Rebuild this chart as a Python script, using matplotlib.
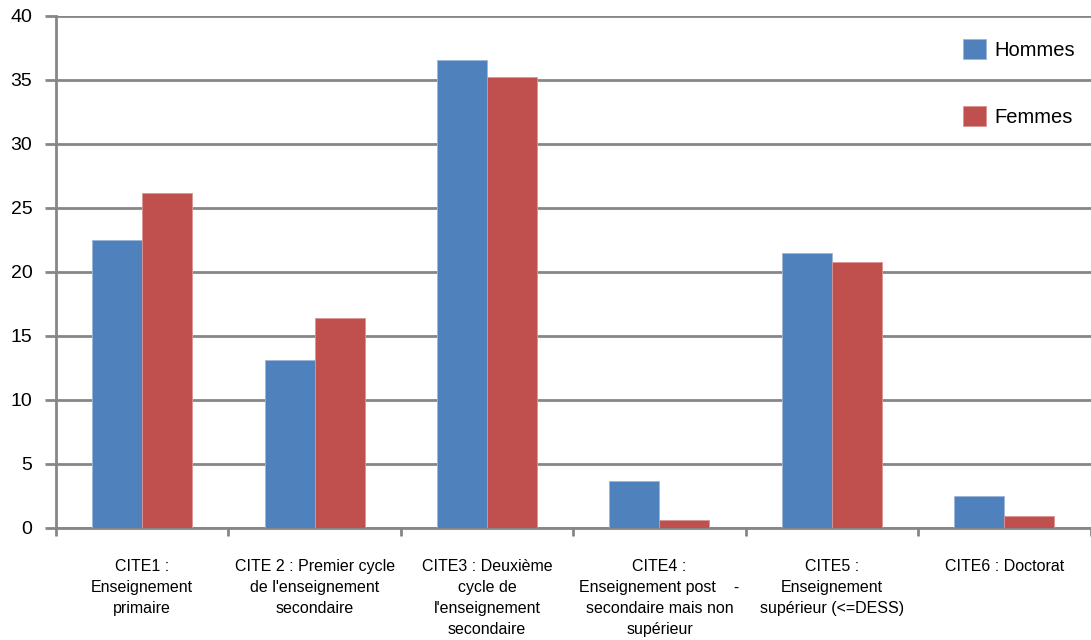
import matplotlib.pyplot as plt
import numpy as np

plt.rcParams['font.family'] = ['Liberation Sans', 'DejaVu Sans']

categories = [
    "CITE1 :\nEnseignement\nprimaire",
    "CITE 2 : Premier cycle\nde l'enseignement\nsecondaire",
    "CITE3 : Deuxième\ncycle de\nl'enseignement\nsecondaire",
    "CITE4 :\nEnseignement post    -\nsecondaire mais non\nsupérieur",
    "CITE5 :\nEnseignement\nsupérieur (<=DESS)",
    "CITE6 : Doctorat",
]
hommes = [22.5, 13.1, 36.6, 3.7, 21.5, 2.5]
femmes = [26.2, 16.4, 35.2, 0.6, 20.8, 0.95]
yticks = [0, 5, 10, 15, 20, 25, 30, 35, 40]

blue = "#4F81BD"
red = "#C0504D"
grid = "#868686"

fig = plt.figure(figsize=(10.91, 6.40), dpi=100)
ax = fig.add_axes([56 / 1091, 1 - 528 / 640, 1 - 56 / 1091 - 0.5 / 1091, 512 / 640])

x = np.arange(len(categories))
w = 0.29
ax.bar(x - w / 2, hommes, w, color=blue, edgecolor="#9DB6D9", linewidth=0.6, label="Hommes", zorder=3)
ax.bar(x + w / 2, femmes, w, color=red, edgecolor="#D99694", linewidth=0.6, label="Femmes", zorder=3)

ax.set_xlim(-0.5, len(categories) - 0.5)
ax.set_ylim(0, 40)
ax.set_yticks(yticks)
ax.set_yticklabels([str(v) for v in yticks], fontsize=14)
ax.yaxis.grid(True, color=grid, linewidth=2, zorder=0)
ax.set_axisbelow(True)

for s in ["top", "right"]:
    ax.spines[s].set_visible(False)
ax.spines["left"].set_color(grid)
ax.spines["left"].set_linewidth(2)
ax.spines["bottom"].set_color(grid)
ax.spines["bottom"].set_linewidth(2)

ax.tick_params(axis="y", length=8, width=2, color=grid, pad=9, labelcolor="black")

# category labels between boundary ticks
ax.set_xticks(x)
ax.set_xticklabels(categories, fontsize=11.5, linespacing=1.5, va="top", ha="center")
ax.tick_params(axis="x", length=0, pad=22)
ax.set_xticks(np.arange(len(categories) + 1) - 0.5, minor=True)
ax.tick_params(axis="x", which="minor", length=6, width=2, color=grid)

leg = ax.legend(loc="upper right", bbox_to_anchor=(0.997, 0.978), frameon=False,
                fontsize=14.5, handlelength=1.1, handleheight=1.1,
                labelspacing=2.3, handletextpad=0.45, borderaxespad=0.2)

fig.savefig("out.png", dpi=100)
